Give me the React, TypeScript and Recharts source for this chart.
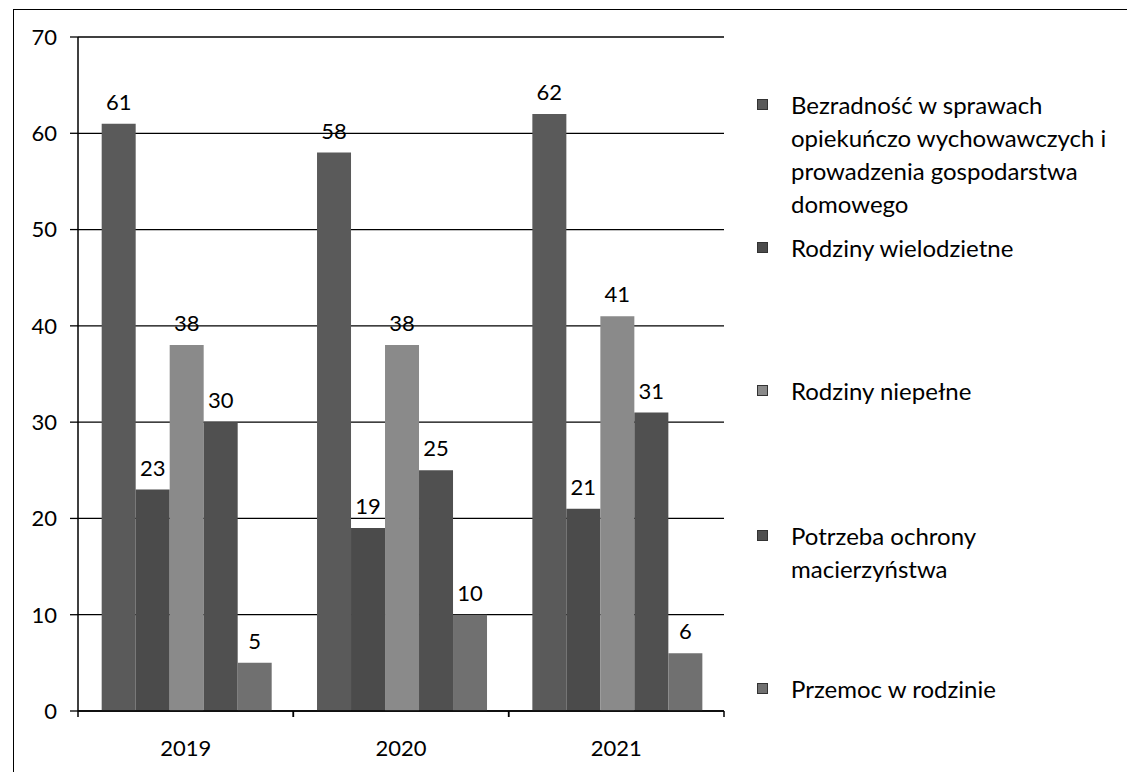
import React from "react";
import { BarChart, Bar, XAxis, YAxis, CartesianGrid, LabelList, Legend } from "recharts";

const years = ["2019", "2020", "2021"];
const bezradnosc = [61, 58, 62];
const wielodzietne = [23, 19, 21];
const niepelne = [38, 38, 41];
const macierzynstwo = [30, 25, 31];
const przemoc = [5, 10, 6];
const yTicks = [0, 10, 20, 30, 40, 50, 60, 70];

const seriesNames = [
  "Bezradność w sprawach opiekuńczo wychowawczych i prowadzenia gospodarstwa domowego",
  "Rodziny wielodzietne",
  "Rodziny niepełne",
  "Potrzeba ochrony macierzyństwa",
  "Przemoc w rodzinie",
];
const legendLines = [
  ["Bezradność w sprawach", "opiekuńczo wychowawczych i", "prowadzenia gospodarstwa", "domowego"],
  ["Rodziny wielodzietne"],
  ["Rodziny niepełne"],
  ["Potrzeba ochrony", "macierzyństwa"],
  ["Przemoc w rodzinie"],
];
const colors = ["#5a5a5a", "#4b4b4b", "#8a8a8a", "#505050", "#707070"];
const legendCenters = [104, 247, 390, 535, 688];

const data = years.map((y, i) => ({
  year: y,
  s0: bezradnosc[i],
  s1: wielodzietne[i],
  s2: niepelne[i],
  s3: macierzynstwo[i],
  s4: przemoc[i],
}));

const FONT = "Lato, 'Open Sans', sans-serif";

const XTick = (props: any) => {
  const { x, y, payload } = props;
  const off = payload.offset || 0;
  const axisY = y - 29;
  return (
    <g>
      <line x1={x - off} x2={x - off} y1={axisY} y2={axisY + 6} stroke="#000" strokeWidth={1.5} />
      <line x1={x + off} x2={x + off} y1={axisY} y2={axisY + 6} stroke="#000" strokeWidth={1.5} />
      <text x={x} y={y} dy="0.72em" textAnchor="middle" fontSize={22} fontFamily={FONT} fill="#000">
        {payload.value}
      </text>
    </g>
  );
};

const LegendContent = () => (
  <div style={{ position: "relative", width: 372, height: 772, fontFamily: FONT }}>
    {legendLines.map((lines, i) => (
      <div key={i} style={{ position: "absolute", left: 0, top: legendCenters[i] - 16.5 }}>
        <div
          style={{
            position: "absolute",
            left: 2,
            top: 11,
            width: 9,
            height: 9,
            background: colors[i],
            border: "1px solid #333",
          }}
        />
        <div style={{ position: "absolute", left: 36, top: 0, width: 340, fontSize: 24, lineHeight: "33px", color: "#000", whiteSpace: "nowrap" }}>
          {lines.map((l, j) => (
            <div key={j}>{l}</div>
          ))}
        </div>
      </div>
    ))}
  </div>
);

export default function App() {
  return (
    <div style={{ position: "absolute", left: 0, top: 0, width: 1127, height: 772, background: "#fff", overflow: "hidden" }}>
      <div
        style={{
          position: "absolute",
          left: 13,
          top: 9,
          width: 1200,
          height: 900,
          borderLeft: "1.5px solid #000",
          borderTop: "1.5px solid #000",
        }}
      />
      <BarChart
        width={1127}
        height={772}
        data={data}
        margin={{ top: 37, right: 31, bottom: 21, left: 18 }}
        barCategoryGap="11%"
        barGap={0}
        style={{ position: "absolute", left: 0, top: 0 }}
      >
        <CartesianGrid vertical={false} stroke="#000" strokeWidth={1.3} />
        <XAxis
          dataKey="year"
          height={40}
          axisLine={{ stroke: "#000", strokeWidth: 1.5 }}
          tickLine={false}
          tickSize={6}
          tickMargin={23}
          tick={<XTick />}
          interval={0}
        />
        <YAxis
          width={60}
          domain={[0, 70]}
          ticks={yTicks}
          interval={0}
          axisLine={{ stroke: "#000", strokeWidth: 1.5 }}
          tickLine={{ stroke: "#000", strokeWidth: 1.3 }}
          tickSize={8}
          tickMargin={13}
          tick={{ fontSize: 22, fontFamily: FONT, fill: "#000" }}
        />
        <Legend
          layout="vertical"
          align="right"
          verticalAlign="top"
          content={<LegendContent />}
          wrapperStyle={{ position: "absolute", left: 755, top: 0, width: 372, height: 772 }}
        />
        {["s0", "s1", "s2", "s3", "s4"].map((k, i) => (
          <Bar key={k} dataKey={k} name={seriesNames[i]} fill={colors[i]} isAnimationActive={false}>
            <LabelList dataKey={k} position="top" offset={14} fontSize={22} fontFamily={FONT} fill="#000" />
          </Bar>
        ))}
      </BarChart>
    </div>
  );
}
